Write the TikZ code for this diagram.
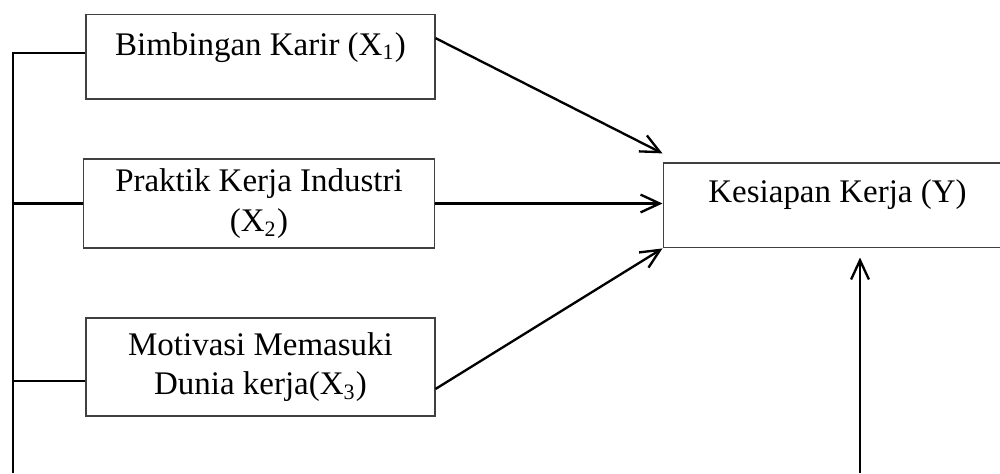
\documentclass[tikz,border=0pt]{standalone}
\usepackage{fontspec}
\setmainfont{Liberation Serif}
\usepackage{tikz}
\usetikzlibrary{arrows.meta}

\begin{document}
\begin{tikzpicture}[x=0.364pt,y=-0.364pt]
    %
    % `var' is used for the variable boxes.
    % `link' is used for the plain lines, `arr' for the arrows.
    \tikzstyle{var} = [draw=black!75,line width=0.4pt,inner ysep=0pt,align=center,font=\fontsize{12}{14.5}\selectfont]
    \tikzstyle{link} = [line width=0.85pt]
    \tikzstyle{arr} = [line width=0.85pt,-{Straight Barb[length=7pt,width=6.5pt,line width=0.85pt]}]
    %
    \clip (0,0) rectangle (1000,473);
    %
    % Independent variables
    \node[var,anchor=base,minimum width=127pt,text height=14.9pt,text depth=16pt] (x1) at (260.5,55) {Bimbingan Karir (X\textsubscript{1})};
    \node[var,minimum width=127.5pt,minimum height=32.4pt] (x2) at (259,203.5) {Praktik Kerja Industri\\(X\textsubscript{2})};
    \node[var,minimum width=127pt,minimum height=35.7pt] (x3) at (260.5,367) {Motivasi Memasuki\\Dunia kerja(X\textsubscript{3})};
    %
    % Dependent variable (box runs past the right edge)
    \node[var,anchor=base,minimum width=127pt,text height=14.2pt,text depth=16.7pt] (y) at (837.5,202) {Kesiapan Kerja (Y)};
    %
    % Left bracket
    \coordinate (bustop) at (13,53);
    \coordinate (busbot) at (13,473);
    \draw[link] (busbot) -- (bustop) -- (bustop -| x1.west);
    \draw[link] (x2.west) -- (x2.west -| bustop);
    \draw[link] ([yshift=-5pt]x3.west) -- ([yshift=-5pt]x3.west -| bustop);
    %
    % Arrows to Y
    \draw[arr] ([yshift=6.7pt]x1.east) -- ([yshift=3.3pt]y.north west);
    \draw[arr] (x2.east) -- (x2.east -| y.west);
    \draw[arr] ([yshift=-8pt]x3.east) -- (y.south west);
    %
    % Arrow from below
    \coordinate (ybot) at (860,473);
    \draw[arr] (ybot) -- ([yshift=-3.3pt]ybot |- y.south);
    %
\end{tikzpicture}
\end{document}
